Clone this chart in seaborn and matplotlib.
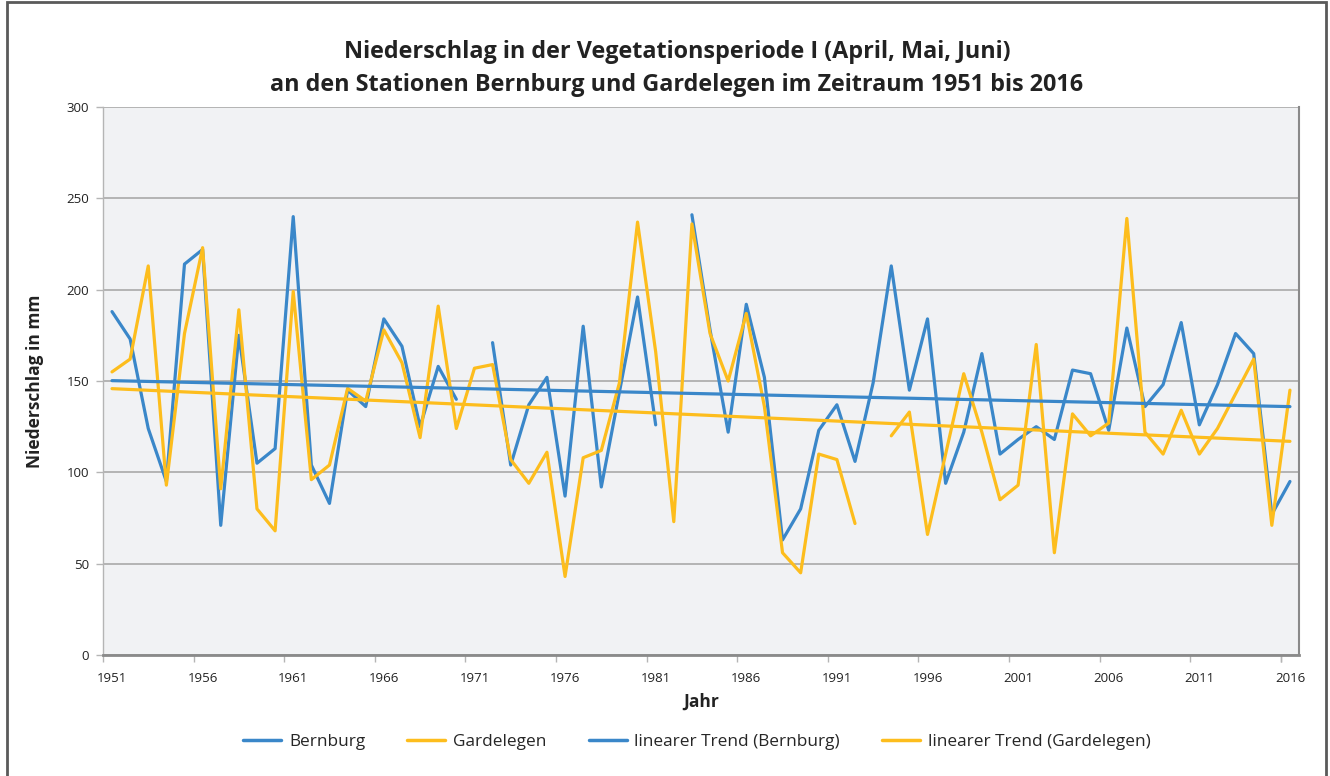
import numpy as np
import pandas as pd
import matplotlib
matplotlib.use("Agg")
import matplotlib.pyplot as plt
from matplotlib.lines import Line2D
from matplotlib.patches import Rectangle
import seaborn as sns

# Niederschlag April-Juni (mm) je Jahr
years = list(range(1951, 2017))
bernburg = [188, 173, 124, 95, 214, 222, 71, 175, 105, 113,
            240, 104, 83, 145, 136, 184, 169, 125, 158, 140,
            np.nan, 171, 104, 137, 152, 87, 180, 92, 144, 196,
            126, np.nan, 241, 178, 122, 192, 152, 63, 80, 123,
            137, 106, 149, 213, 145, 184, 94, 122, 165, 110,
            118, 125, 118, 156, 154, 123, 179, 136, 148, 182,
            126, 148, 176, 165, 77, 95]
gardelegen = [155, 162, 213, 93, 176, 223, 91, 189, 80, 68,
              199, 96, 104, 146, 139, 178, 160, 119, 191, 124,
              157, 159, 107, 94, 111, 43, 108, 112, 149, 237,
              166, 73, 236, 176, 150, 187, 136, 56, 45, 110,
              107, 72, np.nan, 120, 133, 66, 110, 154, 122, 85,
              93, 170, 56, 132, 120, 127, 239, 122, 110, 134,
              110, 124, 143, 162, 71, 145]
tick_years = [1951, 1956, 1961, 1966, 1971, 1976, 1981, 1986, 1991,
              1996, 2001, 2006, 2011, 2016]
y_ticks = [0, 50, 100, 150, 200, 250, 300]

series_names = ["Bernburg", "Gardelegen"]
trend_names = ["linearer Trend (Bernburg)", "linearer Trend (Gardelegen)"]
colors = ["#3a87c9", "#fdbd1d"]

sns.set_theme(style="white")
plt.rcParams["font.family"] = ["Open Sans", "DejaVu Sans"]

fig = plt.figure(figsize=(13.3, 7.76), dpi=100)
ax = fig.add_axes([0.0774, 0.1559, 0.8993, 0.7062])
ax.set_facecolor("#f1f2f4")


def as_frame(values):
    df = pd.DataFrame({"Jahr": years, "mm": values})
    # separate segment ids so missing years leave a gap in the line
    df["seg"] = df["mm"].isna().cumsum()
    return df.dropna()


for name, vals, col in zip(series_names, [bernburg, gardelegen], colors):
    df = as_frame(vals)
    sns.lineplot(data=df, x="Jahr", y="mm", units="seg", estimator=None,
                 color=col, lw=2.3, ax=ax, legend=False, zorder=3)

for vals, col in zip([bernburg, gardelegen], colors):
    df = pd.DataFrame({"Jahr": years, "mm": vals})
    sns.regplot(data=df, x="Jahr", y="mm", scatter=False, ci=None,
                truncate=True, ax=ax,
                line_kws={"color": col, "lw": 2.3, "zorder": 4})

ax.set_xlim(1950.5, 2016.5)
ax.set_ylim(0, 300)
ax.set_yticks(y_ticks)
ax.set_xticks(tick_years)
ax.set_xticklabels([str(y) for y in tick_years])
ax.set_xticks([1950.5 + 5 * k for k in range(14)] + [2015.5], minor=True)

ax.grid(axis="y", color="#a9a9a9", lw=1.2, zorder=0)
ax.grid(axis="x", visible=False)
ax.set_axisbelow(True)

ax.tick_params(axis="y", which="major", length=5, width=1, color="#b5b5b5",
               labelsize=9.5, labelcolor="#222222", pad=5, left=True)
ax.tick_params(axis="x", which="major", length=0, labelsize=9.5,
               labelcolor="#222222", pad=12)
ax.tick_params(axis="x", which="minor", length=5, width=1, color="#b5b5b5",
               bottom=True)

ax.spines["top"].set_visible(False)
ax.spines["left"].set_color("#b5b5b5")
ax.spines["left"].set_linewidth(1.0)
ax.spines["bottom"].set_color("#8a8a8a")
ax.spines["bottom"].set_linewidth(2.0)
ax.spines["right"].set_visible(True)
ax.spines["right"].set_color("#8a8a8a")
ax.spines["right"].set_linewidth(1.5)

ax.set_xlabel("Jahr", fontsize=12.5, fontweight="bold", color="#222222",
              labelpad=6)
ax.set_ylabel("Niederschlag in mm", fontsize=12.5, fontweight="bold",
              color="#222222", labelpad=16)

fig.text(0.509, 0.912,
         "Niederschlag in der Vegetationsperiode I (April, Mai, Juni)\n"
         "an den Stationen Bernburg und Gardelegen im Zeitraum 1951 bis 2016",
         ha="center", va="center", fontsize=16.8, fontweight="bold",
         color="#222222", linespacing=1.5)

handles = [Line2D([], [], color=c, lw=2.5) for c in colors + colors]
labels = series_names + trend_names
fig.legend(handles, labels, loc="center", bbox_to_anchor=(0.524, 0.044),
           ncol=4, frameon=False, fontsize=12.4, handlelength=2.2,
           handletextpad=0.45, columnspacing=2.45)

fig.patches.append(Rectangle((0.0055, -0.01), 0.9915, 1.007,
                             transform=fig.transFigure, fill=False,
                             edgecolor="#5a5a5a", lw=2.0))

fig.savefig("out.png", dpi=100, facecolor="white")
